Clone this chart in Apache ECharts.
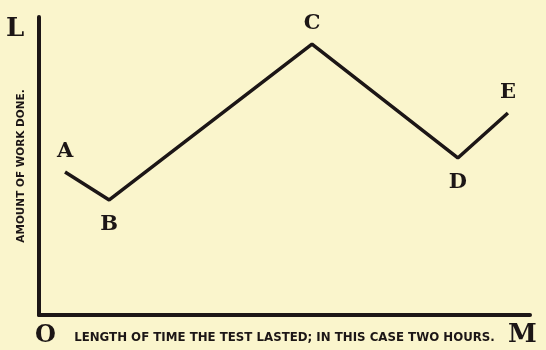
<!DOCTYPE html>
<html>
<head>
<meta charset="utf-8">
<script src="https://cdn.jsdelivr.net/npm/echarts@6/dist/echarts.min.js"></script>
<style>
  html, body { margin: 0; padding: 0; background-color: #FAF5CC; }
  #chart { width: 546px; height: 350px; }
</style>
</head>
<body>
<div id="chart"></div>
<script>
  // points of the curve, time (0-100 of the test) against amount of work
  var pointNames = ['A', 'B', 'C', 'D', 'E'];
  var timeValues = [5.3, 14.3, 55.6, 85.3, 95.5];
  var workValues = [48.0, 38.6, 90.9, 52.7, 67.8];
  var labelSides = ['top', 'bottom', 'top', 'bottom', 'top'];

  var ink = '#1c1616';
  var serif = '"DejaVu Serif", "Liberation Serif", serif';

  var points = pointNames.map(function (n, i) {
    var below = labelSides[i] === 'bottom';
    return {
      name: n,
      value: [timeValues[i], workValues[i]],
      label: {position: labelSides[i], distance: below ? 14 : 10}
    };
  });

  var myChart = echarts.init(document.getElementById('chart'));
  myChart.setOption({
    backgroundColor: '#FAF5CC',
    animation: false,
    grid: {
      left: 39,
      right: 16,
      top: 17,
      bottom: 35
    },
    xAxis: {
      type: 'value',
      min: 0,
      max: 100,
      name: 'LENGTH OF TIME THE TEST LASTED; IN THIS CASE TWO HOURS.',
      nameLocation: 'middle',
      nameGap: 17,
      nameTextStyle: {
        color: ink,
        fontFamily: '"DejaVu Sans", sans-serif',
        fontWeight: 'bold',
        fontSize: 11.8
      },
      axisLine: {show: true, lineStyle: {color: ink, width: 4}},
      axisTick: {show: false},
      axisLabel: {show: false},
      splitLine: {show: false}
    },
    yAxis: {
      type: 'value',
      min: 0,
      max: 100,
      name: 'AMOUNT OF WORK DONE.',
      nameLocation: 'middle',
      nameGap: 12,
      nameRotate: 90,
      nameTextStyle: {
        color: ink,
        fontFamily: '"DejaVu Sans", sans-serif',
        fontWeight: 'bold',
        fontSize: 10.5
      },
      axisLine: {show: true, lineStyle: {color: ink, width: 4}},
      axisTick: {show: false},
      axisLabel: {show: false},
      splitLine: {show: false}
    },
    graphic: [
      {type: 'text', left: 6, top: 16, style: {text: 'L', font: 'bold 26px ' + serif, fill: ink}},
      {type: 'text', left: 35, top: 324, style: {text: 'O', font: 'bold 24px ' + serif, fill: ink}},
      {type: 'text', left: 508, top: 322, style: {text: 'M', font: 'bold 26px ' + serif, fill: ink}}
    ],
    series: [{
      type: 'line',
      data: points,
      symbol: 'circle',
      symbolSize: 0.1,
      showSymbol: true,
      itemStyle: {color: ink},
      lineStyle: {color: ink, width: 3.5},
      label: {
        show: true,
        formatter: '{b}',
        color: ink,
        fontFamily: serif,
        fontWeight: 'bold',
        fontSize: 21
      }
    }]
  });
</script>
</body>
</html>
